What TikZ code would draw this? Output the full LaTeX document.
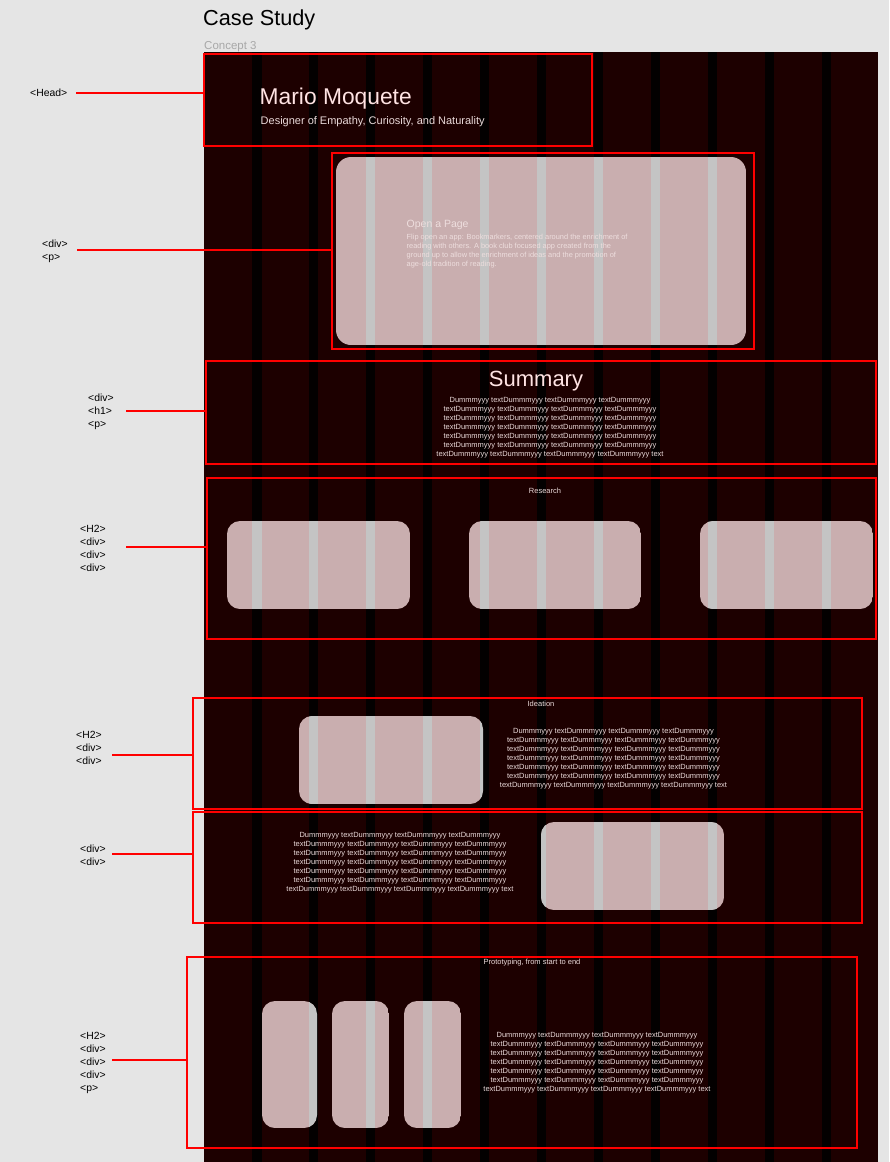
\documentclass[tikz,border=0pt]{standalone}
\usepackage{fontspec}
\setmainfont{Liberation Sans}
\definecolor{bgc}{HTML}{E5E5E5}
\definecolor{framec}{HTML}{1D0000}
\definecolor{gridc}{HTML}{030000}
\definecolor{cardc}{HTML}{C9AEAF}
\definecolor{cardstripe}{HTML}{C4C4C4}
\definecolor{redc}{HTML}{FF0000}
\definecolor{lighttxt}{HTML}{FFE3E3}
\definecolor{softtxt}{HTML}{E9D9D9}
\definecolor{cardtxt}{HTML}{EEDEDE}
\definecolor{graytxt}{HTML}{A8A8A8}
\newcommand{\mycard}[5]{%
  \begin{scope}
    \clip[rounded corners=#5pt] (#1,#2) rectangle (#3,#4);
    \fill[cardc] (#1,#2) rectangle (#3,#4);
    \foreach \k in {0,...,10} \fill[cardstripe] ({252+56.95*\k},#2) rectangle ({261.5+56.95*\k},#4);
  \end{scope}}
\newcommand{\dummypar}{Dummmyyy textDummmyyy textDummmyyy textDummmyyy\\
textDummmyyy textDummmyyy textDummmyyy textDummmyyy\\
textDummmyyy textDummmyyy textDummmyyy textDummmyyy\\
textDummmyyy textDummmyyy textDummmyyy textDummmyyy\\
textDummmyyy textDummmyyy textDummmyyy textDummmyyy\\
textDummmyyy textDummmyyy textDummmyyy textDummmyyy\\
textDummmyyy textDummmyyy textDummmyyy textDummmyyy text}
\begin{document}
\begin{tikzpicture}[x=1pt,y=-1pt,
  redbox/.style={draw=redc, line width=2pt, inner sep=0pt, outer sep=0pt, anchor=north west},
  conn/.style={draw=redc, line width=2pt},
  taglbl/.style={anchor=west, align=left, inner sep=0pt, font=\fontsize{10.4}{13}\selectfont, text=black},
  dummy/.style={align=center, inner sep=0pt, font=\fontsize{7.5}{9}\selectfont, text=softtxt},
  sechead/.style={inner sep=0pt, font=\fontsize{7.5}{9}\selectfont, text=softtxt}]
\useasboundingbox (0,0) rectangle (889,1162);
\fill[bgc] (0,0) rectangle (889,1162);
% frame
\fill[framec] (204,52) rectangle (878,1162);
\foreach \k in {0,...,10} \fill[gridc] ({252+56.95*\k},52) rectangle ({261.5+56.95*\k},1162);
% titles
\node[anchor=base west, inner sep=0pt, font=\fontsize{21.7}{26}\selectfont, text=black] (title) at (203,25) {Case Study};
\node[anchor=base west, inner sep=0pt, font=\fontsize{11.5}{14}\selectfont, text=graytxt] (concept) at (204,49) {Concept 3};
% cards
\mycard{336}{157}{746}{345}{15}
\mycard{227}{521}{410}{609}{13}
\mycard{469}{521}{641}{609}{13}
\mycard{700}{521}{873}{609}{13}
\mycard{299}{716}{483}{804}{13}
\mycard{541}{822}{724}{910}{13}
\mycard{262}{1001}{317}{1128}{13}
\mycard{332}{1001}{389}{1128}{13}
\mycard{404}{1001}{461}{1128}{13}
% head texts
\node[anchor=base west, inner sep=0pt, font=\fontsize{22.8}{27}\selectfont, text=lighttxt] (name) at (259.5,104) {Mario Moquete};
\node[anchor=base west, inner sep=0pt, font=\fontsize{11}{13}\selectfont, text=softtxt] (tagline) at (260.5,124) {Designer of Empathy, Curiosity, and Naturality};
% hero texts
\node[anchor=base west, inner sep=0pt, font=\fontsize{10.5}{13}\selectfont, text=cardtxt] (opentitle) at (406.5,227) {Open a Page};
\node[anchor=west, align=left, inner sep=0pt, font=\fontsize{7.4}{9}\selectfont, text=cardtxt] (openpar) at (406.5,251.5) {Flip open an app: Bookmarkers, centered around the enrichment of\\reading with others. A book club focused app created from the\\ground up to allow the enrichment of ideas and the promotion of\\age-old tradition of reading.};
% summary
\node[anchor=base, inner sep=0pt, font=\fontsize{22}{26}\selectfont, text=lighttxt] (sumtitle) at (536,386) {Summary};
\node[dummy] (sumpar) at (550,428) {\dummypar};
% sections
\node[sechead] (research) at (545,491) {Research};
\node[sechead] (ideation) at (541,704) {Ideation};
\node[dummy] (ideapar) at (613.5,759) {\dummypar};
\node[dummy] (divpar) at (400,863) {\dummypar};
\node[sechead] (proto) at (532,963) {Prototyping, from start to end};
\node[dummy] (protopar) at (597,1062.5) {\dummypar};
% red boxes
\node[redbox, minimum width=388pt, minimum height=92pt] (boxHead) at (204,54) {};
\node[redbox, minimum width=422pt, minimum height=196pt] (boxHero) at (332,153) {};
\node[redbox, minimum width=670pt, minimum height=103pt] (boxSum) at (206,361) {};
\node[redbox, minimum width=669pt, minimum height=161pt] (boxRes) at (207,478) {};
\node[redbox, minimum width=669pt, minimum height=111pt] (boxIdea) at (193,698) {};
\node[redbox, minimum width=669pt, minimum height=111pt] (boxDiv) at (193,812) {};
\node[redbox, minimum width=670pt, minimum height=191pt] (boxProto) at (187,957) {};
% tag labels
\node[taglbl] (lHead) at (30,93) {<Head>};
\node[taglbl] (lHero) at (42,251) {<div>\\<p>};
\node[taglbl] (lSum) at (88,412) {<div>\\<h1>\\<p>};
\node[taglbl] (lRes) at (80,548.5) {<H2>\\<div>\\<div>\\<div>};
\node[taglbl] (lIdea) at (76,748) {<H2>\\<div>\\<div>};
\node[taglbl] (lDiv) at (80,855.5) {<div>\\<div>};
\node[taglbl] (lProto) at (80,1063) {<H2>\\<div>\\<div>\\<div>\\<p>};
% connectors
\coordinate (cHead) at (76,93);
\coordinate (cHero) at (77,250);
\coordinate (cSum) at (126,411);
\coordinate (cRes) at (126,547);
\coordinate (cIdea) at (112,755);
\coordinate (cDiv) at (112,854);
\coordinate (cProto) at (112,1060);
\draw[conn] (cHead) -- (cHead -| boxHead.west);
\draw[conn] (cHero) -- (cHero -| boxHero.west);
\draw[conn] (cSum) -- (cSum -| boxSum.west);
\draw[conn] (cRes) -- (cRes -| boxRes.west);
\draw[conn] (cIdea) -- (cIdea -| boxIdea.west);
\draw[conn] (cDiv) -- (cDiv -| boxDiv.west);
\draw[conn] (cProto) -- (cProto -| boxProto.west);
\end{tikzpicture}
\end{document}
